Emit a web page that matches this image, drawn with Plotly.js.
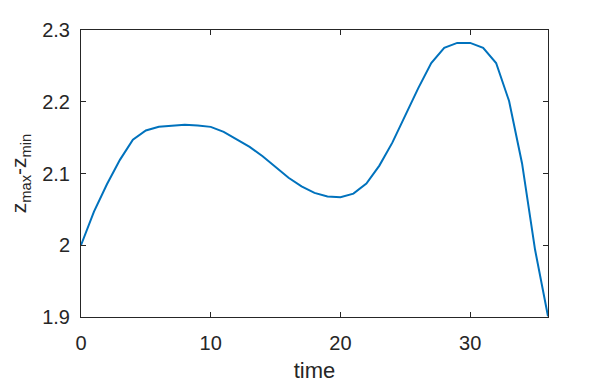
<!DOCTYPE html>
<html><head><meta charset="utf-8">
<script src="https://cdn.plot.ly/plotly-3.0.1.min.js"></script>
<style>html,body{margin:0;padding:0;background:#fff}</style>
</head><body>
<div id="chart" style="width:605px;height:385px"></div>
<script>
const time = [0,1,2,3,4,5,6,7,8,9,10,11,12,13,14,15,16,17,18,19,20,21,22,23,24,25,26,27,28,29,30,31,32,33,34,35,36];
const zRange = [2.000,2.047,2.085,2.119,2.147,2.160,2.165,2.167,2.168,2.167,2.165,2.158,2.148,2.137,2.124,2.109,2.094,2.082,2.073,2.068,2.067,2.072,2.086,2.111,2.143,2.181,2.219,2.254,2.275,2.282,2.282,2.275,2.254,2.201,2.114,1.994,1.901];
const xTicks = [0,10,20,30];
const yTicks = [1.9,2,2.1,2.2,2.3];
const yTickLabels = ['1.9','2','2.1','2.2','2.3'];

Plotly.newPlot('chart', [{
  x: time, y: zRange, type: 'scatter', mode: 'lines',
  line: {color: '#0072BD', width: 2}
}], {
  width: 605, height: 385,
  margin: {l: 81, r: 57, t: 29.5, b: 67.5},
  paper_bgcolor: '#fff', plot_bgcolor: '#fff',
  font: {family: 'Liberation Sans, Arial, sans-serif', color: '#262626'},
  showlegend: false,
  xaxis: {
    range: [0, 36], tickvals: xTicks, ticks: 'inside', ticklen: 5, tickcolor: '#262626',
    showline: true, linecolor: '#262626', linewidth: 1, mirror: 'ticks', showgrid: false, zeroline: false,
    tickfont: {size: 20, color: '#262626'}, ticklabelstandoff: 8,
    title: {text: 'time', font: {size: 22, color: '#262626'}, standoff: 9}
  },
  yaxis: {
    range: [1.9, 2.3], tickvals: yTicks, ticktext: yTickLabels, ticks: 'inside', ticklen: 5, tickcolor: '#262626',
    showline: true, linecolor: '#262626', linewidth: 1, mirror: 'ticks', showgrid: false, zeroline: false,
    tickfont: {size: 20, color: '#262626'}, ticklabelstandoff: 6,
    title: {text: 'z<sub>max</sub>-z<sub>min</sub>', font: {size: 21, color: '#262626'}, standoff: 9}
  }
}, {displayModeBar: false, staticPlot: true});
</script>
</body></html>
